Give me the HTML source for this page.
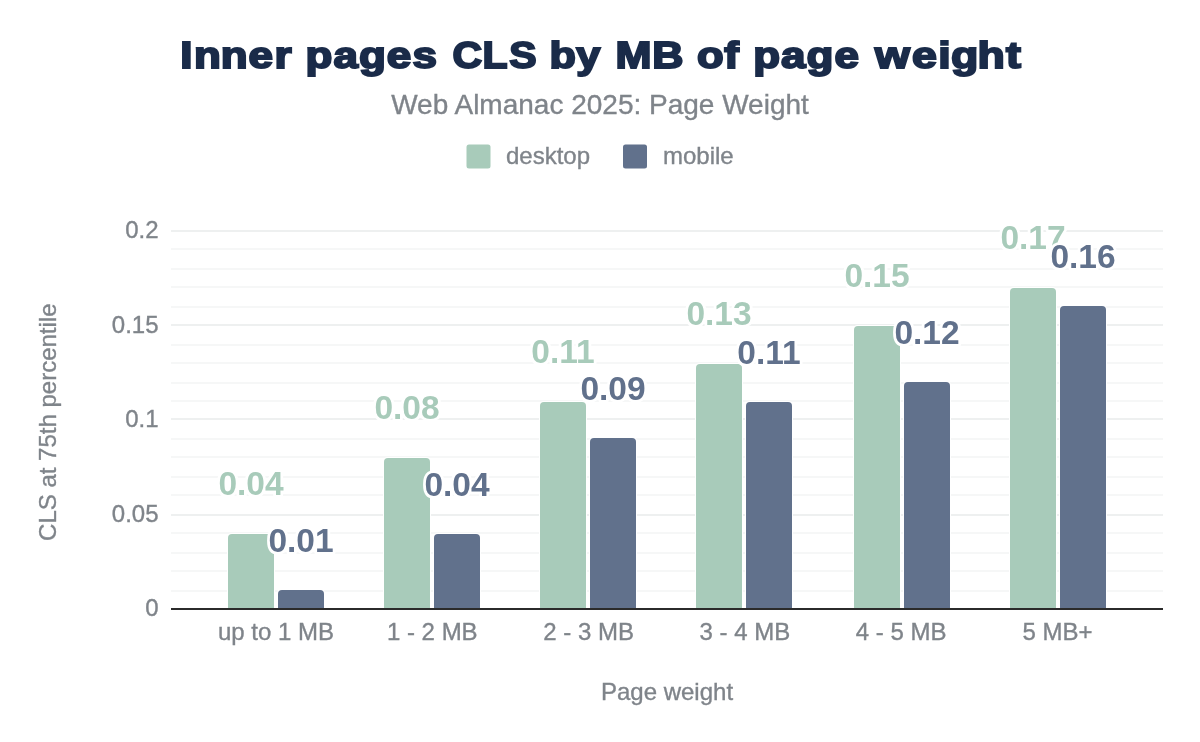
<!DOCTYPE html>
<html lang="en"><head><meta charset="utf-8"><title>Inner pages CLS by MB of page weight</title>
<style>html,body{margin:0;padding:0;background:#fff}body{width:1200px;height:742px;overflow:hidden}svg{display:block}text{font-family:"Liberation Sans", Arial, Helvetica, sans-serif}.g{stroke:#7f848a;stroke-width:.35px}</style></head><body>
<svg width="1200" height="742" viewBox="0 0 1200 742">
<rect width="1200" height="742" fill="#fff"/>
<g font-size="37.6" font-weight="bold" fill="#1a2b49" stroke="#1a2b49" stroke-width="2" stroke-linejoin="miter">
<text transform="translate(178.50,68.30) scale(1.170,1)" x="1.43 13.22 36.02 59.85 81.98" y="0">Inner</text>
<text transform="translate(305.68,68.30) scale(1.170,1)" x="-0.08 23.75 45.52 69.36 91.20" y="0">pages</text>
<text transform="translate(452.86,68.30) scale(1.090,1)" x="-0.33 27.25 51.68" y="0">CLS</text>
<text transform="translate(549.42,68.30) scale(1.150,1)" x="0.12 23.37" y="0">by</text>
<text transform="translate(614.66,68.30) scale(1.150,1)" x="0.76 32.79" y="0">MB</text>
<text transform="translate(697.06,68.30) scale(1.160,1)" x="0.02 23.45" y="0">of</text>
<text transform="translate(753.32,68.30) scale(1.170,1)" x="-0.08 23.75 45.52 69.36" y="0">page</text>
<text transform="translate(873.46,68.30) scale(1.190,1)" x="1.24 32.49 54.52 65.07 87.49 111.39" y="0">weight</text>
</g>
<text class="g" x="600" y="114.4" font-size="28" text-anchor="middle" fill="#7f848a">Web Almanac 2025: Page Weight</text>
<rect x="466.5" y="144.5" width="24" height="24" rx="2.5" fill="#a8cbba"/>
<text class="g" x="506" y="163.5" font-size="24" fill="#7f848a">desktop</text>
<rect x="623" y="144.5" width="24" height="24" rx="2.5" fill="#61718c"/>
<text class="g" x="663" y="163.5" font-size="24" fill="#7f848a">mobile</text>
<rect x="171" y="590" width="992" height="2" fill="#f6f7f7"/>
<rect x="171" y="570" width="992" height="2" fill="#f6f7f7"/>
<rect x="171" y="552" width="992" height="2" fill="#f6f7f7"/>
<rect x="171" y="532" width="992" height="2" fill="#f6f7f7"/>
<rect x="171" y="514" width="992" height="2" fill="#eef0f0"/>
<rect x="171" y="494" width="992" height="2" fill="#f6f7f7"/>
<rect x="171" y="476" width="992" height="2" fill="#f6f7f7"/>
<rect x="171" y="456" width="992" height="2" fill="#f6f7f7"/>
<rect x="171" y="438" width="992" height="2" fill="#f6f7f7"/>
<rect x="171" y="418" width="992" height="2" fill="#eef0f0"/>
<rect x="171" y="400" width="992" height="2" fill="#f6f7f7"/>
<rect x="171" y="382" width="992" height="2" fill="#f6f7f7"/>
<rect x="171" y="362" width="992" height="2" fill="#f6f7f7"/>
<rect x="171" y="344" width="992" height="2" fill="#f6f7f7"/>
<rect x="171" y="324" width="992" height="2" fill="#eef0f0"/>
<rect x="171" y="306" width="992" height="2" fill="#f6f7f7"/>
<rect x="171" y="286" width="992" height="2" fill="#f6f7f7"/>
<rect x="171" y="268" width="992" height="2" fill="#f6f7f7"/>
<rect x="171" y="248" width="992" height="2" fill="#f6f7f7"/>
<rect x="171" y="230" width="992" height="2" fill="#eef0f0"/>
<text class="g" x="158.5" y="237.8" font-size="24" text-anchor="end" fill="#7f848a">0.2</text>
<text class="g" x="158.5" y="332.9" font-size="24" text-anchor="end" fill="#7f848a">0.15</text>
<text class="g" x="158.5" y="427.0" font-size="24" text-anchor="end" fill="#7f848a">0.1</text>
<text class="g" x="158.5" y="521.9" font-size="24" text-anchor="end" fill="#7f848a">0.05</text>
<text class="g" x="158.5" y="615.8" font-size="24" text-anchor="end" fill="#7f848a">0</text>
<path d="M228 609V538q0 -4 4 -4H270q4 0 4 4V609Z" fill="#a8cbba" stroke="#fff" stroke-width="2" paint-order="stroke"/>
<path d="M278 609V594q0 -4 4 -4H320q4 0 4 4V609Z" fill="#61718c" stroke="#fff" stroke-width="2" paint-order="stroke"/>
<path d="M384 609V462q0 -4 4 -4H426q4 0 4 4V609Z" fill="#a8cbba" stroke="#fff" stroke-width="2" paint-order="stroke"/>
<path d="M434 609V538q0 -4 4 -4H476q4 0 4 4V609Z" fill="#61718c" stroke="#fff" stroke-width="2" paint-order="stroke"/>
<path d="M540 609V406q0 -4 4 -4H582q4 0 4 4V609Z" fill="#a8cbba" stroke="#fff" stroke-width="2" paint-order="stroke"/>
<path d="M590 609V442q0 -4 4 -4H632q4 0 4 4V609Z" fill="#61718c" stroke="#fff" stroke-width="2" paint-order="stroke"/>
<path d="M696 609V368q0 -4 4 -4H738q4 0 4 4V609Z" fill="#a8cbba" stroke="#fff" stroke-width="2" paint-order="stroke"/>
<path d="M746 609V406q0 -4 4 -4H788q4 0 4 4V609Z" fill="#61718c" stroke="#fff" stroke-width="2" paint-order="stroke"/>
<path d="M854 609V330q0 -4 4 -4H896q4 0 4 4V609Z" fill="#a8cbba" stroke="#fff" stroke-width="2" paint-order="stroke"/>
<path d="M904 609V386q0 -4 4 -4H946q4 0 4 4V609Z" fill="#61718c" stroke="#fff" stroke-width="2" paint-order="stroke"/>
<path d="M1010 609V292q0 -4 4 -4H1052q4 0 4 4V609Z" fill="#a8cbba" stroke="#fff" stroke-width="2" paint-order="stroke"/>
<path d="M1060 609V310q0 -4 4 -4H1102q4 0 4 4V609Z" fill="#61718c" stroke="#fff" stroke-width="2" paint-order="stroke"/>
<rect x="171" y="608" width="992" height="2" fill="#2b2b2b"/>
<g font-size="33.5" font-weight="bold" text-anchor="middle" stroke="#fff" stroke-width="5.5" stroke-linejoin="round" paint-order="stroke">
<g fill="#a8cbba">
<text x="251.0" y="494.8">0.04</text>
<text x="407.0" y="418.8">0.08</text>
<text x="563.0" y="362.8">0.11</text>
<text x="719.0" y="324.8">0.13</text>
<text x="877.0" y="286.8">0.15</text>
<text x="1033.0" y="248.8">0.17</text>
</g><g fill="#61718c">
<text x="301.0" y="551.7">0.01</text>
<text x="457.0" y="495.7">0.04</text>
<text x="613.0" y="399.7">0.09</text>
<text x="769.0" y="363.7">0.11</text>
<text x="927.0" y="343.7">0.12</text>
<text x="1083.0" y="267.7">0.16</text>
</g></g>
<text class="g" x="276.0" y="640" font-size="24" text-anchor="middle" fill="#7f848a">up to 1 MB</text>
<text class="g" x="432.3" y="640" font-size="24" text-anchor="middle" fill="#7f848a">1 - 2 MB</text>
<text class="g" x="588.6" y="640" font-size="24" text-anchor="middle" fill="#7f848a">2 - 3 MB</text>
<text class="g" x="744.9" y="640" font-size="24" text-anchor="middle" fill="#7f848a">3 - 4 MB</text>
<text class="g" x="901.2" y="640" font-size="24" text-anchor="middle" fill="#7f848a">4 - 5 MB</text>
<text class="g" x="1057.5" y="640" font-size="24" text-anchor="middle" fill="#7f848a">5 MB+</text>
<text class="g" x="667" y="699.6" font-size="24" text-anchor="middle" fill="#7f848a">Page weight</text>
<text class="g" transform="translate(55.8,422.2) rotate(-90)" font-size="24" text-anchor="middle" fill="#7f848a">CLS at 75th percentile</text>
</svg></body></html>
